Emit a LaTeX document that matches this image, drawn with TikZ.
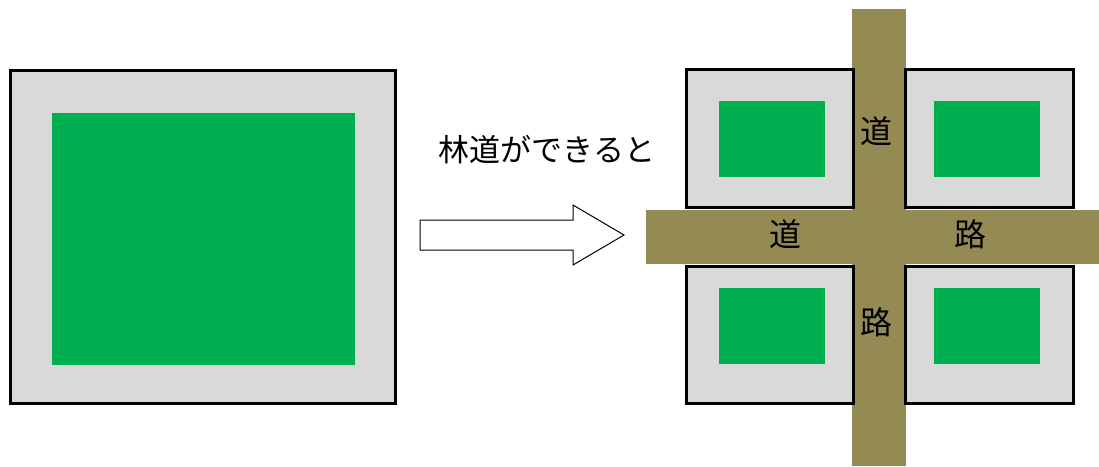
\documentclass[tikz,border=0pt]{standalone}
\usepackage{fontspec}
\newfontfamily\jp{Noto Sans CJK JP}
\definecolor{road}{HTML}{948A54}
\definecolor{forest}{HTML}{00B050}
\definecolor{edge}{HTML}{D9D9D9}
\begin{document}
\begin{tikzpicture}[x=1pt,y=-1pt,
  block/.style={fill=edge,draw=black,line width=3pt},
  wood/.style={fill=forest},
  roadfill/.style={fill=road},
  lbl/.style={font=\jp\fontsize{32}{32}\selectfont,inner sep=0pt,text=black},
  captext/.style={font=\jp\fontsize{31}{31}\selectfont,inner sep=0pt,text=black}]
\useasboundingbox (0,0) rectangle (1099,466);
% left block
\path[block] (10,70) rectangle (395,403);
\path[wood] (52,113) rectangle (355,365);
% arrow
\draw[line width=1pt,fill=white] (420,220) -- (573,220) -- (573,205) -- (624,235) -- (573,265) -- (573,250) -- (420,250) -- cycle;
\node[captext] (caption) at (547,150) {林道ができると};
% roads
\path[roadfill] (852,9) rectangle (906,466);
\path[roadfill] (646,210) rectangle (1099,264);
% blocks
\path[block] (686,69) rectangle (853,207);
\path[block] (905,69) rectangle (1073,207);
\path[block] (686,266) rectangle (853,403);
\path[block] (905,266) rectangle (1073,403);
\path[wood] (719,101) rectangle (825,177);
\path[wood] (934,101) rectangle (1040,177);
\path[wood] (719,288) rectangle (825,364);
\path[wood] (934,288) rectangle (1040,364);
% labels
\node[lbl] (v1) at (876,131) {道};
\node[lbl] (v2) at (876,322) {路};
\node[lbl] (h1) at (785,234) {道};
\node[lbl] (h2) at (970,234) {路};
\end{tikzpicture}
\end{document}
